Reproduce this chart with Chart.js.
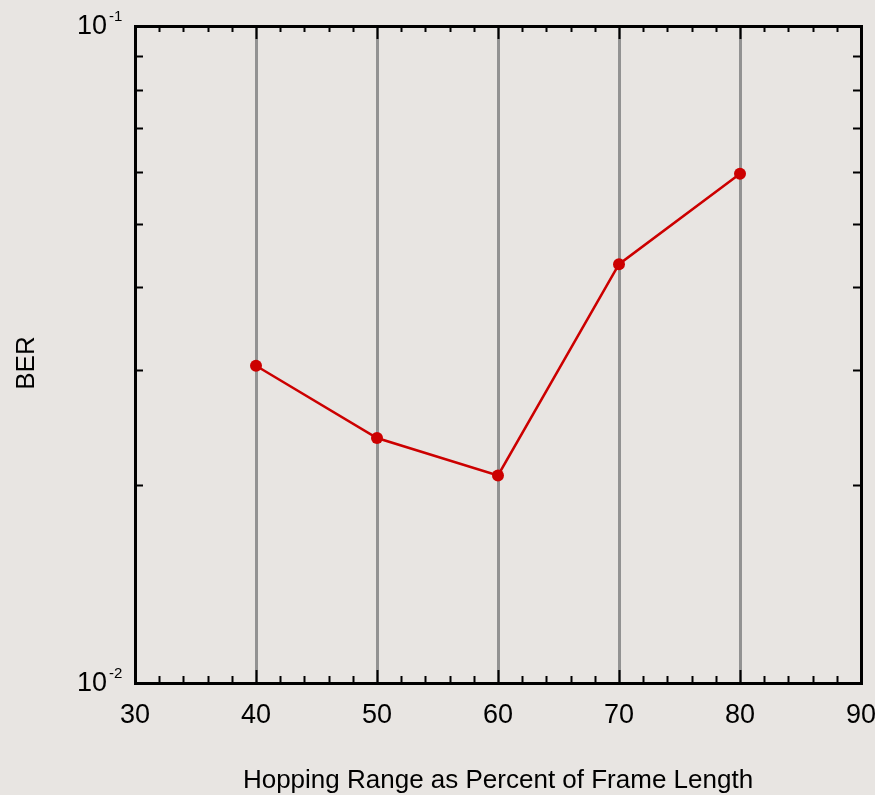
<!DOCTYPE html>
<html>
<head>
<meta charset="utf-8">
<title>BER vs Hopping Range</title>
<script src="https://cdn.jsdelivr.net/npm/chart.js@4.4.1/dist/chart.umd.min.js"></script>
<style>
  html, body { margin: 0; padding: 0; background: #e8e5e2; }
  #wrap { width: 875px; height: 795px; }
</style>
</head>
<body>
<div id="wrap"><canvas id="c" width="875" height="795"></canvas></div>
<script>
// Hopping range (% of frame length) and measured bit error rate
const hoppingRange = [40, 50, 60, 70, 80];
const berValues = [0.0304, 0.0236, 0.0207, 0.0434, 0.0596];

// Axis extents and labelled ticks
const xTicks = [30, 40, 50, 60, 70, 80, 90];
const yDecades = [0.01, 0.1];
const yDecadeExponents = ['-2', '-1'];

const xTitle = 'Hopping Range as Percent of Frame Length';
const yTitle = 'BER';

const FONT = "'Liberation Sans', Arial, Helvetica, sans-serif";
const BG = '#e8e5e2';

// Frame, inward tick marks and decade labels drawn from the chart's own scales
const framePlugin = {
  id: 'frame',
  beforeDraw(chart) {
    const ctx = chart.ctx;
    ctx.save();
    ctx.fillStyle = BG;
    ctx.fillRect(0, 0, chart.width, chart.height);
    ctx.restore();
  },
  afterDatasetsDraw(chart) {
    const { ctx, chartArea: a, scales: { x, y } } = chart;
    ctx.save();
    ctx.strokeStyle = '#000';
    ctx.lineCap = 'butt';

    // x ticks: major every 10, minor every 2, on bottom and top edges
    ctx.lineWidth = 2;
    for (let v = xTicks[0]; v <= xTicks[xTicks.length - 1] + 1e-9; v += 2) {
      const px = Math.round(x.getPixelForValue(v)) + 0.5;
      const major = Math.abs(v % 10) < 1e-9;
      const len = major ? 13 : 7;
      ctx.beginPath();
      ctx.moveTo(px, a.bottom);
      ctx.lineTo(px, a.bottom - len);
      ctx.moveTo(px, a.top);
      ctx.lineTo(px, a.top + (major ? 13 : 6));
      ctx.stroke();
    }

    // y ticks: log minors 2..9 within the decade, on left and right edges
    for (let m = 2; m <= 9; m++) {
      const v = yDecades[0] * m;
      const py = Math.round(y.getPixelForValue(v)) + 0.5;
      ctx.beginPath();
      ctx.moveTo(a.left, py);
      ctx.lineTo(a.left + 8, py);
      ctx.moveTo(a.right, py);
      ctx.lineTo(a.right - 8, py);
      ctx.stroke();
    }

    // outer frame
    ctx.lineWidth = 3;
    ctx.strokeRect(a.left + 0.5, a.top + 0.5, a.right - a.left, a.bottom - a.top);
    ctx.restore();
  },
  afterDraw(chart) {
    const { ctx, chartArea: a, scales: { x, y } } = chart;
    ctx.save();
    ctx.fillStyle = '#000';

    // x tick labels
    ctx.font = '27px ' + FONT;
    ctx.textAlign = 'center';
    ctx.textBaseline = 'alphabetic';
    xTicks.forEach(v => {
      ctx.fillText(String(v), x.getPixelForValue(v), 723);
    });

    // y decade labels as 10 with a superscript exponent
    yDecades.forEach((v, i) => {
      const py = y.getPixelForValue(v) + 8;
      ctx.font = '27px ' + FONT;
      ctx.textAlign = 'right';
      ctx.fillText('10', 107, py);
      ctx.font = '15px ' + FONT;
      ctx.textAlign = 'left';
      ctx.fillText(yDecadeExponents[i], 109, py - 13);
    });

    // axis titles
    ctx.font = '26px ' + FONT;
    ctx.textAlign = 'center';
    ctx.fillText(xTitle, (a.left + a.right) / 2, 788);

    ctx.save();
    ctx.translate(34, 363);
    ctx.rotate(-Math.PI / 2);
    ctx.textAlign = 'center';
    ctx.textBaseline = 'alphabetic';
    ctx.fillText(yTitle, 0, 0);
    ctx.restore();

    ctx.restore();
  }
};

new Chart(document.getElementById('c'), {
  type: 'line',
  data: {
    datasets: [{
      label: yTitle,
      data: hoppingRange.map((h, i) => ({ x: h, y: berValues[i] })),
      borderColor: '#cc0000',
      backgroundColor: '#cc0000',
      borderWidth: 2.5,
      pointRadius: 6,
      pointHoverRadius: 6,
      pointBorderWidth: 0,
      tension: 0,
      fill: false
    }]
  },
  options: {
    responsive: false,
    devicePixelRatio: 1,
    animation: false,
    events: [],
    layout: { padding: { left: 135, right: 14, top: 26, bottom: 112 } },
    plugins: {
      legend: { display: false },
      tooltip: { enabled: false },
      title: { display: false }
    },
    scales: {
      x: {
        type: 'linear',
        min: xTicks[0],
        max: xTicks[xTicks.length - 1],
        ticks: { display: false, stepSize: 10 },
        border: { display: false },
        grid: {
          drawTicks: false,
          lineWidth: 3,
          color: ctx => {
            const v = ctx.tick ? ctx.tick.value : null;
            return (v === xTicks[0] || v === xTicks[xTicks.length - 1]) ? 'rgba(0,0,0,0)' : '#929292';
          }
        }
      },
      y: {
        type: 'logarithmic',
        min: yDecades[0],
        max: yDecades[1],
        ticks: { display: false },
        border: { display: false },
        grid: { display: false, drawTicks: false }
      }
    }
  },
  plugins: [framePlugin]
});
</script>
</body>
</html>
